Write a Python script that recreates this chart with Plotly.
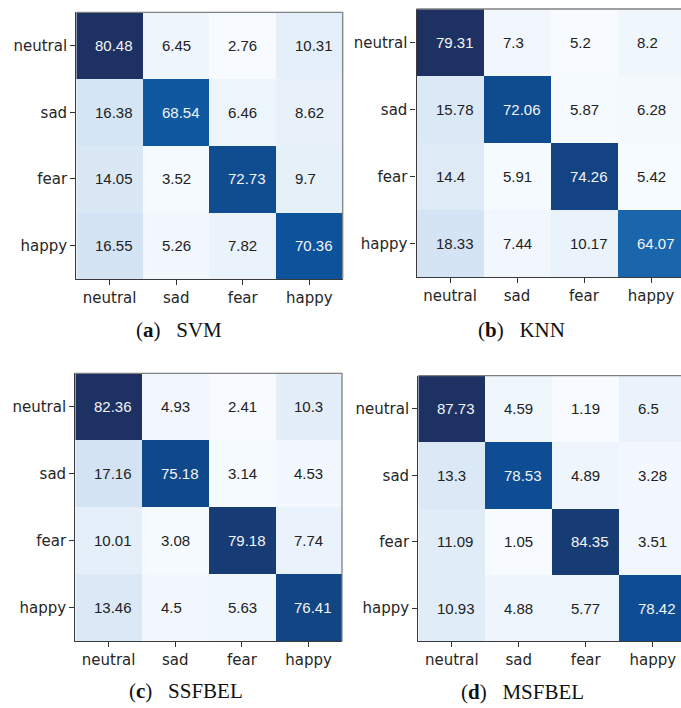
import plotly.graph_objects as go

# Emotion classes (rows = true label, columns = predicted label)
labels = ["neutral", "sad", "fear", "happy"]

# Confusion matrices in percent, one per classifier
svm = [
    [80.48, 6.45, 2.76, 10.31],
    [16.38, 68.54, 6.46, 8.62],
    [14.05, 3.52, 72.73, 9.7],
    [16.55, 5.26, 7.82, 70.36],
]
knn = [
    [79.31, 7.3, 5.2, 8.2],
    [15.78, 72.06, 5.87, 6.28],
    [14.4, 5.91, 74.26, 5.42],
    [18.33, 7.44, 10.17, 64.07],
]
ssfbel = [
    [82.36, 4.93, 2.41, 10.3],
    [17.16, 75.18, 3.14, 4.53],
    [10.01, 3.08, 79.18, 7.74],
    [13.46, 4.5, 5.63, 76.41],
]
msfbel = [
    [87.73, 4.59, 1.19, 6.5],
    [13.3, 78.53, 4.89, 3.28],
    [11.09, 1.05, 84.35, 3.51],
    [10.93, 4.88, 5.77, 78.42],
]

panel_tags = ["a", "b", "c", "d"]
panel_names = ["SVM", "KNN", "SSFBEL", "MSFBEL"]
matrices = [svm, knn, ssfbel, msfbel]

W, H = 681, 708

# panel geometry in pixels: (left, right, top, bottom, x-range end, draw right spine)
panels = [
    (76.3, 342.7, 12.3, 279.0, 3.5, True),
    (416.5, 681.0, 9.0, 277.0, -0.5 + 264.5 / 67.0, False),
    (75.3, 342.0, 373.3, 641.3, 3.5, True),
    (418.3, 681.0, 375.7, 641.3, -0.5 + 262.7 / 67.0, False),
]
# caption centres in pixels
caption_pos = [(179, 330), (521, 330), (186, 691), (522, 692)]

blues = [
    [0.0, "#f7fbff"],
    [0.125, "#deebf7"],
    [0.25, "#c6dbef"],
    [0.375, "#9ecae1"],
    [0.5, "#6baed6"],
    [0.625, "#4292c6"],
    [0.75, "#2171b5"],
    [0.875, "#0b529b"],
    [1.0, "#1d3263"],
]

fig = go.Figure()
annotations = []
shapes = []

tick_font = dict(family="DejaVu Sans", size=15, color="#262626")

for k, (mat, geo) in enumerate(zip(matrices, panels)):
    left, right, top, bottom, xend, right_spine = geo
    sfx = "" if k == 0 else str(k + 1)
    xa, ya = "x" + sfx, "y" + sfx
    flat = [v for row in mat for v in row]
    fig.add_trace(go.Heatmap(
        z=mat, x=list(range(4)), y=list(range(4)),
        colorscale=blues, zmin=min(flat), zmax=max(flat),
        showscale=False, xaxis=xa, yaxis=ya, hoverinfo="skip",
    ))
    fig.layout["xaxis" + sfx] = dict(
        domain=[left / W, right / W], anchor=ya,
        range=[-0.5, xend], tickmode="array",
        tickvals=list(range(4)), ticktext=labels,
        ticks="outside", ticklen=5, tickwidth=1.2, tickcolor="#333333",
        showline=True, linecolor="#3a3a3a", linewidth=1.3,
        showgrid=False, zeroline=False, tickfont=tick_font, fixedrange=True,
    )
    fig.layout["yaxis" + sfx] = dict(
        domain=[1 - bottom / H, 1 - top / H], anchor=xa,
        range=[3.5, -0.5], tickmode="array",
        tickvals=list(range(4)), ticktext=labels,
        ticks="outside", ticklen=5, tickwidth=1.2, tickcolor="#333333",
        showline=True, linecolor="#3a3a3a", linewidth=1.3,
        showgrid=False, zeroline=False, tickfont=tick_font, fixedrange=True,
    )
    # lighter top / right frame lines
    shapes.append(dict(type="line", xref=xa + " domain", yref=ya + " domain",
                       x0=0, x1=1, y0=1, y1=1,
                       line=dict(color="#808080", width=1.3)))
    if right_spine:
        shapes.append(dict(type="line", xref=xa + " domain", yref=ya + " domain",
                           x0=1, x1=1, y0=0, y1=1,
                           line=dict(color="#808080", width=1.3)))
    # cell values
    for i, row in enumerate(mat):
        for j, v in enumerate(row):
            annotations.append(dict(
                x=j - 0.245, y=i, xref=xa, yref=ya, text=str(v),
                xanchor="left", yanchor="middle", showarrow=False,
                font=dict(family="Liberation Sans", size=15,
                          color="#f4f4f4" if v > 50 else "#222222"),
            ))
    cx, cy = caption_pos[k]
    annotations.append(dict(
        x=cx / W, y=1 - cy / H, xref="paper", yref="paper",
        text="(<b>%s</b>)&nbsp;&nbsp; %s" % (panel_tags[k], panel_names[k]),
        xanchor="center", yanchor="middle", showarrow=False,
        font=dict(family="Liberation Serif", size=21, color="#111111"),
    ))

fig.update_layout(
    width=W, height=H,
    margin=dict(l=0, r=0, t=0, b=0),
    paper_bgcolor="white", plot_bgcolor="white",
    annotations=annotations, shapes=shapes,
    showlegend=False,
)

fig.write_html("out.html", config={"displayModeBar": False})
